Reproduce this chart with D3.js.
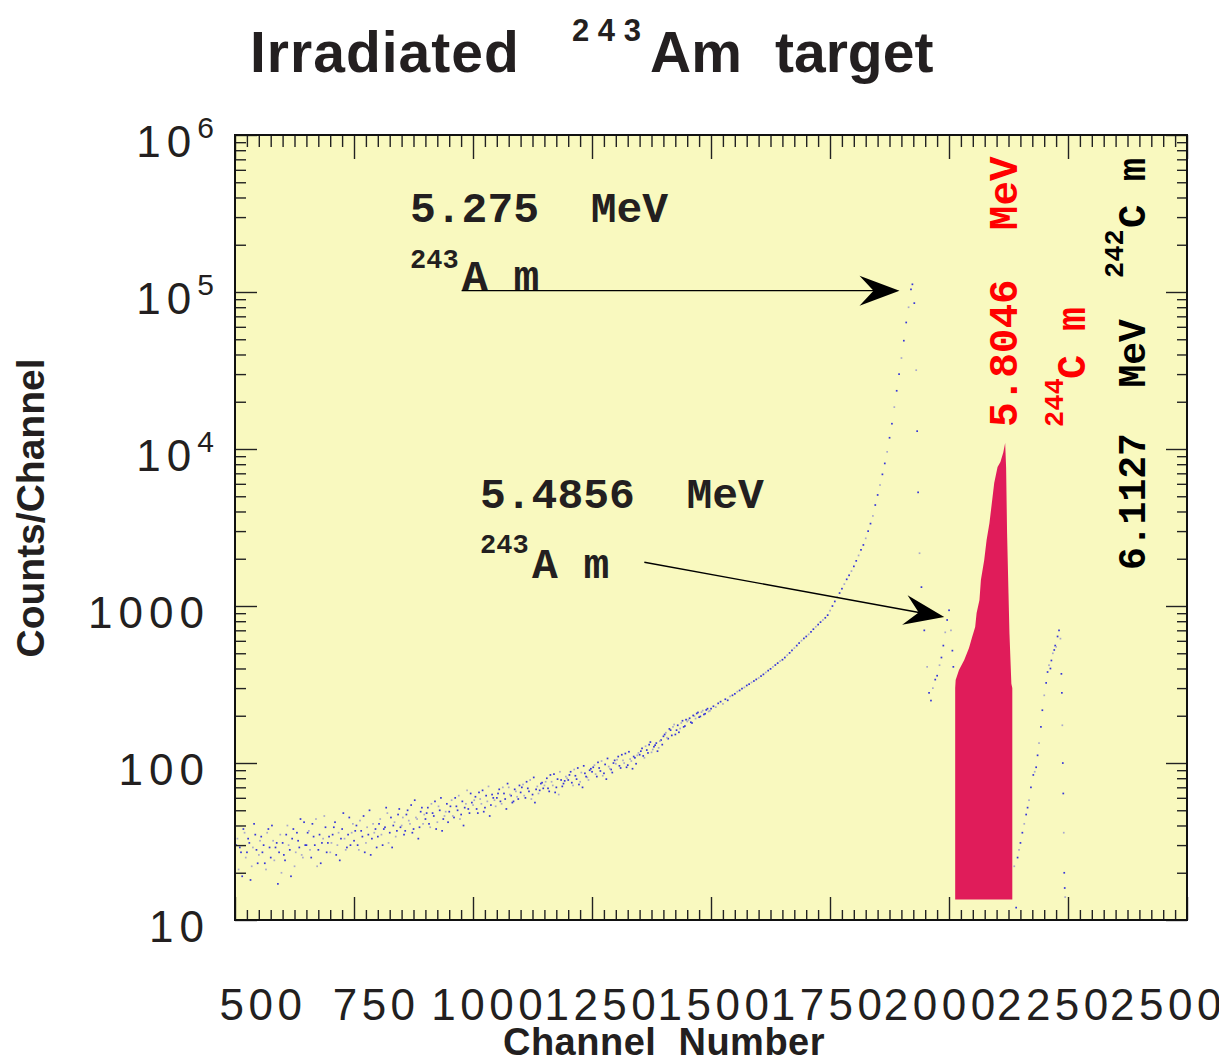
<!DOCTYPE html>
<html>
<head>
<meta charset="utf-8">
<script src="https://cdn.jsdelivr.net/npm/d3@7"></script>
<style>
  body { margin: 0; background: #fff; }
  svg text { font-family: "Liberation Sans", Arial, sans-serif; white-space: pre; }
  svg text.mono { font-family: "Liberation Mono", "Courier New", monospace; font-weight: bold; }
</style>
</head>
<body>
<div id="chart"></div>
<script>

// ---- data ----
// main 243Am spectrum, one value every 5 channels starting at channel 500
let mainStart = 500
let mainStep = 5
let mainCounts = [
  24, 33, 29, 19, 36, 27, 31, 22, 41, 28,
  26, 34, 30, 21, 38, 25, 32, 29, 17, 35,
  31, 24, 40, 28, 33, 22, 36, 29, 26, 42,
  30, 37, 25, 34, 44, 28, 23, 33, 39, 31,
  27, 35, 42, 30, 24, 38, 33, 29, 45, 36,
  32, 40, 28, 37, 46, 31, 35, 26, 41, 38,
  34, 44, 30, 39, 48, 36, 29, 42, 37, 51,
  40, 35, 47, 43, 54, 38, 45, 33, 49, 41,
  44, 52, 39, 48, 57, 42, 50, 37, 46, 55,
  49, 58, 45, 53, 62, 47, 40, 55, 51, 64,
  54, 61, 48, 59, 67, 52, 57, 46, 63, 58,
  60, 68, 55, 64, 51, 70, 62, 57, 66, 59,
  65, 73, 60, 69, 78, 63, 56, 71, 67, 75,
  72, 80, 66, 76, 85, 70, 63, 78, 74, 82,
  78, 88, 72, 83, 93, 76, 70, 86, 81, 90,
  88, 97, 82, 93, 103, 86, 79, 95, 91, 100,
  99, 110, 93, 104, 115, 97, 106, 92, 108, 112,
  113, 124, 108, 121, 131, 117, 127, 134, 125, 140,
  148, 156, 143, 162, 170, 152, 174, 166, 186, 172,
  184, 193, 180, 199, 207, 196, 211, 204, 218, 213,
  222, 230, 227, 240, 246, 238, 255, 251, 266, 270,
  276, 285, 290, 298, 303, 312, 318, 326, 333, 341,
  348, 358, 367, 378, 388, 398, 410, 421, 433, 446,
  455, 470, 487, 503, 522, 540, 560, 581, 602, 622,
  640, 660, 685, 712, 738, 762, 790, 815, 842, 875,
  935, 1000, 1070, 1140, 1210, 1290, 1380, 1480, 1570, 1670,
  1790, 1940, 2100, 2280, 2450, 2700, 3000, 3350, 3750, 4400,
  5100, 5900, 6900, 8100, 9600, 11800, 14500, 18500, 23500, 30000,
  38000, 49000, 64000, 80000, 104000
]

// the in-between channels (502.5, 507.5, ...) of the noisy low-energy part
let midStart = 502.5
let midCounts = [
  30, 21, 27, 38, 25, 33, 18, 29, 35, 23,
  32, 27, 23, 36, 29, 40, 24, 31, 27, 20,
  26, 35, 30, 19, 38, 27, 32, 44, 25, 30,
  36, 28, 41, 30, 22, 35, 31, 46, 27, 34,
  31, 39, 26, 36, 33, 48, 28, 35, 30, 41,
  37, 30, 43, 34, 27, 39, 50, 33, 36, 29,
  41, 35, 38, 52, 31, 45, 40, 34, 47, 39,
  45, 37, 50, 41, 36, 58, 44, 39, 52, 47,
  48, 41, 55, 46, 38, 53, 60, 44, 49, 42,
  53, 46, 60, 50, 44, 57, 52, 67, 48, 56,
  58, 51, 65, 55, 49, 62, 71, 54, 60, 53,
  64, 57, 70, 59, 74, 63, 56, 68, 61, 72,
  70, 62, 76, 66, 59, 81, 68, 64, 74, 69,
  76, 69, 84, 72, 65, 79, 88, 71, 77, 80,
  84, 75, 91, 79, 73, 87, 96, 82, 78, 92,
  94, 85, 101, 89, 83, 98, 107, 92, 87, 104,
  105, 96, 113, 100, 94, 118, 103, 110, 99, 116,
  119, 111, 128, 116, 136, 122, 130, 119, 138, 131,
  152, 145, 165, 150, 176, 162, 157, 180, 170, 189,
  188, 182, 201, 192, 210, 198, 216, 206, 222, 215
]

// fall of the 5.275 MeV peak and the 5.4856 MeV bump
let edgeChannels = [1923, 1927, 1931, 1933, 1935, 1938, 1942, 1948, 1954, 1958, 1962, 1966,
                    1971, 1975, 1980, 1984, 1988, 1992, 1996, 2000, 2004, 2007, 2009]
let edgeCounts = [112000, 85000, 31800, 13000, 5300, 2170, 1320, 700, 410, 280, 250, 300,
                  340, 360, 420, 470, 560, 680, 815, 940, 700, 520, 410]

// region of interest (244Cm peak), filled in red
let roiChannels = [2013, 2014, 2021, 2032, 2042, 2048, 2055, 2058, 2064, 2067, 2074, 2079,
                   2085, 2095, 2102, 2108, 2114, 2118, 2120, 2122, 2125, 2127, 2131, 2133]
let roiCounts = [300, 338, 391, 453, 540, 625, 735, 902, 1090, 1465, 1965, 2630,
                 3380, 6070, 7680, 8260, 9500, 10900, 7600, 2920, 1200, 670, 320, 300]
let roiBase = 13.5

// rising tail toward the 242Cm line
let tailChannels = [2137, 2141, 2144, 2147, 2150, 2154, 2158, 2162, 2165, 2168,
                    2172, 2177, 2180, 2183, 2186, 2189, 2193, 2196, 2200, 2204,
                    2207, 2210, 2213, 2215, 2218, 2221, 2223, 2225, 2228, 2231,
                    2234, 2236, 2237, 2238, 2239, 2240, 2241, 2242, 2243, 2244]
let tailCounts = [22, 12, 25, 28, 31, 36, 41, 47, 52, 58,
                  70, 84, 88, 94, 112, 134, 170, 217, 270, 324,
                  380, 420, 400, 450, 500, 525, 560, 550, 640, 700,
                  620, 370, 280, 174, 100, 64, 36, 20, 16, 14]

let xTickValues = [500, 750, 1000, 1250, 1500, 1750, 2000, 2250, 2500]
let yTickValues = [10, 100, 1000, 10000, 100000, 1000000]
let yTickLabels = [["10", ""], ["100", ""], ["1000", ""], ["10", "4"], ["10", "5"], ["10", "6"]]

// ---- layout ----
let svg = d3.select("#chart").append("svg")
svg.attr("width", 1219)
svg.attr("height", 1061)

let plotL = 235, plotR = 1187, plotT = 135, plotB = 920

let x = d3.scaleLinear().domain([500, 2500]).range([plotL, plotR])
let y = d3.scaleLog().domain([10, 1e6]).range([plotB, plotT])
// tick labels in the original sit on their own, slightly offset grid
let xLabel = d3.scaleLinear().domain([500, 2500]).range([261, 1166])

svg.append("rect")
   .attr("x", plotL).attr("y", plotT)
   .attr("width", plotR - plotL).attr("height", plotB - plotT)
   .style("fill", "#f9f9bf")

// ---- red region ----
let roi = roiChannels.map((c, i) => ({ ch: c, n: roiCounts[i] }))
let area = d3.area()
   .x(d => x(d.ch))
   .y0(y(roiBase))
   .y1(d => y(d.n))
svg.append("path")
   .datum(roi)
   .attr("d", area)
   .style("fill", "#e01c5a")

// ---- spectrum dots ----
let points = mainCounts.map((n, i) => ({ ch: mainStart + i * mainStep, n: n }))
midCounts.forEach((n, i) => points.push({ ch: midStart + i * mainStep, n: n }))
edgeChannels.forEach((c, i) => points.push({ ch: c, n: edgeCounts[i] }))
tailChannels.forEach((c, i) => points.push({ ch: c, n: tailCounts[i] }))

svg.selectAll("rect.dot")
   .data(points)
   .enter()
   .append("rect")
   .attr("class", "dot")
   .attr("x", d => x(d.ch) - 0.8)
   .attr("y", d => y(d.n) - 0.8)
   .attr("width", 1.7)
   .attr("height", 1.7)
   .style("fill", (d, i) => i % 3 == 1 ? "#a8a8cc" : "#3535d8")

// ---- axes (ticks only, pointing inward) ----
let xMinor = d3.range(500, 2501, 25).filter(v => v % 250 != 0)
let yMinor = []
yTickValues.slice(0, -1).forEach(d => { for (let k = 2; k <= 9; k++) yMinor.push(k * d) })

function tickAxis(axisFn, scale, values, size, tr) {
  let g = svg.append("g")
     .attr("transform", tr)
     .call(axisFn(scale).tickValues(values).tickSize(-size).tickFormat(""))
  g.select(".domain").remove()
  g.selectAll("line").style("stroke", "#222").style("stroke-width", 1.4)
}
tickAxis(d3.axisBottom, x, xTickValues, 23, `translate(0,${plotB})`)
tickAxis(d3.axisBottom, x, xMinor, 10, `translate(0,${plotB})`)
tickAxis(d3.axisTop, x, xTickValues, 24, `translate(0,${plotT})`)
tickAxis(d3.axisTop, x, xMinor, 12, `translate(0,${plotT})`)
tickAxis(d3.axisLeft, y, yTickValues, 22, `translate(${plotL},0)`)
tickAxis(d3.axisLeft, y, yMinor, 11, `translate(${plotL},0)`)
tickAxis(d3.axisRight, y, yTickValues, 21, `translate(${plotR},0)`)
tickAxis(d3.axisRight, y, yMinor, 10, `translate(${plotR},0)`)

svg.append("rect")
   .attr("x", plotL).attr("y", plotT)
   .attr("width", plotR - plotL).attr("height", plotB - plotT)
   .style("fill", "none")
   .style("stroke", "#111")
   .style("stroke-width", 2)

// ---- tick labels ----
svg.selectAll("text.xlab")
   .data(xTickValues)
   .enter()
   .append("text")
   .attr("x", d => xLabel(d) + 2)
   .attr("y", 1020)
   .attr("text-anchor", "middle")
   .style("font-size", "44px")
   .style("letter-spacing", "4.5px")
   .style("fill", "#231f20")
   .text(d => d)

let ylab = svg.selectAll("text.ylab")
   .data(yTickValues)
   .enter()
   .append("text")
   .attr("x", (d, i) => yTickLabels[i][1] ? 214 : 210)
   .attr("y", d => y(d) + 22)
   .attr("text-anchor", "end")
   .style("font-size", "44px")
   .style("fill", "#231f20")
ylab.append("tspan")
   .style("letter-spacing", "6px")
   .text((d, i) => yTickLabels[i][0])
ylab.append("tspan")
   .attr("dy", -19)
   .style("font-size", "30px")
   .text((d, i) => yTickLabels[i][1])

// ---- titles ----
let title = svg.append("g").style("font-weight", "bold").style("fill", "#231f20")
title.append("text").attr("x", 250).attr("y", 72).style("font-size", "57px")
   .style("letter-spacing", "1px").text("Irradiated")
title.append("text").attr("x", 572).attr("y", 41).style("font-size", "31px").text("2 4 3")
title.append("text").attr("x", 650).attr("y", 72).style("font-size", "57px").text("Am")
title.append("text").attr("x", 775).attr("y", 72).style("font-size", "57px").text("target")

svg.append("text")
   .attr("x", 664).attr("y", 1055)
   .attr("text-anchor", "middle")
   .style("font-size", "38px").style("font-weight", "bold").style("fill", "#231f20")
   .style("letter-spacing", "0.5px")
   .text("Channel  Number")

svg.append("text")
   .attr("transform", "translate(44,508) rotate(-90)")
   .attr("text-anchor", "middle")
   .style("font-size", "39px").style("font-weight", "bold").style("fill", "#231f20")
   .text("Counts/Channel")

// ---- annotations ----
function mono(xp, yp, size, txt, color) {
  return svg.append("text").attr("class", "mono")
     .attr("x", xp).attr("y", yp)
     .style("font-size", size + "px")
     .style("fill", color || "#231f20")
     .text(txt)
}
mono(410, 222, 43, "5.275  MeV")
mono(410, 268, 27, "243")
mono(462, 290, 43, "A m")
mono(480, 508, 43, "5.4856  MeV")
mono(480, 553, 27, "243")
mono(532, 578, 43, "A m")

function vmono(xp, yp, size, txt, color) {
  return svg.append("text").attr("class", "mono")
     .attr("transform", `translate(${xp},${yp}) rotate(-90)`)
     .style("font-size", size + "px")
     .style("fill", color)
     .text(txt)
}
vmono(1017, 427, 41, "5.8046  MeV", "#ff0000")
vmono(1063, 427, 27, "244", "#ff0000")
vmono(1085, 379, 40, "C m", "#ff0000")
vmono(1145, 570, 38, "6.1127  MeV", "#000")
vmono(1123, 278, 27, "242", "#000")
vmono(1145, 228, 39, "C m", "#000")

// arrows drawn in data coordinates
let arrows = [
  { from: [976, 1.02e5], to: [1896, 1.02e5] },
  { from: [1360, 1900], to: [1990, 850] }
]
arrows.forEach(a => {
  let x1 = x(a.from[0]), y1 = y(a.from[1]), x2 = x(a.to[0]), y2 = y(a.to[1])
  let ang = Math.atan2(y2 - y1, x2 - x1)
  svg.append("line")
     .attr("x1", x1).attr("y1", y1)
     .attr("x2", x2 - 20 * Math.cos(ang)).attr("y2", y2 - 20 * Math.sin(ang))
     .style("stroke", "#000").style("stroke-width", 1.4)
  svg.append("path")
     .attr("d", "M0,0 L-40,-15 L-26,0 L-40,15 Z")
     .attr("transform", `translate(${x2},${y2}) rotate(${ang * 180 / Math.PI})`)
     .style("fill", "#000")
})

</script>
</body>
</html>
